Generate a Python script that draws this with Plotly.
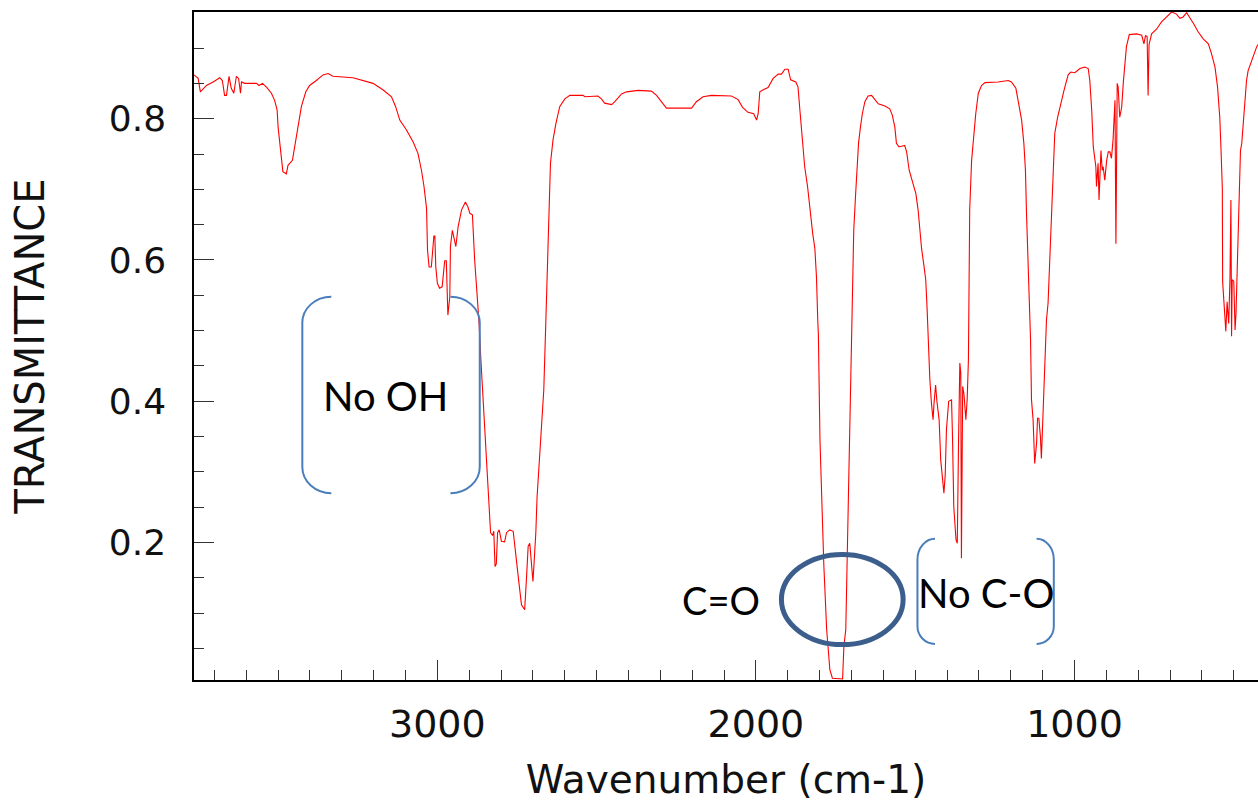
import plotly.graph_objects as go

# ---- spectrum values ----
wavenumber = [
    3764, 3751, 3744, 3725, 3704, 3683, 3675, 3668, 3662, 3654, 3647, 3639, 3631, 3624, 3618, 3615,
    3605, 3568, 3560, 3549, 3535, 3521, 3511, 3503, 3500, 3495, 3490, 3485, 3474, 3469, 3455, 3448,
    3437, 3427, 3413, 3401, 3380, 3359, 3343, 3328, 3265, 3233, 3202, 3171, 3144, 3131, 3118, 3097,
    3076, 3061, 3050, 3042, 3034, 3031, 3026, 3019, 3015, 3011, 3008, 3005, 3000, 2993, 2985, 2977,
    2972, 2968, 2967, 2961, 2959, 2953, 2949, 2942, 2935, 2924, 2912, 2904, 2898, 2890, 2883, 2874,
    2869, 2864, 2859, 2853, 2848, 2843, 2838, 2833, 2827, 2823, 2819, 2815, 2811, 2806, 2799, 2789,
    2783, 2773, 2762, 2752, 2744, 2736, 2726, 2720, 2715, 2710, 2705, 2700, 2696, 2691, 2687, 2681,
    2676, 2670, 2666, 2661, 2658, 2653, 2647, 2645, 2637, 2628, 2616, 2600, 2584, 2543, 2537, 2496,
    2485, 2475, 2453, 2443, 2422, 2406, 2370, 2328, 2312, 2297, 2281, 2202, 2187, 2166, 2140, 2077,
    2056, 2042, 2025, 2007, 1998, 1993, 1988, 1977, 1962, 1946, 1930, 1920, 1909, 1899, 1891, 1875,
    1868, 1862, 1854, 1847, 1838, 1831, 1822, 1815, 1810, 1806, 1804, 1799, 1793, 1787, 1778, 1773,
    1768, 1760, 1728, 1724, 1718, 1714, 1707, 1702, 1698, 1697, 1693, 1687, 1678, 1672, 1666, 1658,
    1648, 1637, 1630, 1616, 1595, 1580, 1572, 1564, 1559, 1551, 1533, 1527, 1519, 1507, 1498, 1491,
    1486, 1480, 1473, 1467, 1463, 1460, 1454, 1449, 1444, 1441, 1436, 1432, 1425, 1420, 1414, 1410,
    1406, 1402, 1395, 1386, 1383, 1379, 1372, 1368, 1364, 1360, 1357, 1355, 1351, 1347, 1341, 1337,
    1333, 1331, 1329, 1323, 1316, 1310, 1302, 1292, 1281, 1240, 1208, 1198, 1184, 1177, 1166, 1159,
    1154, 1151, 1143, 1140, 1138, 1135, 1130, 1125, 1119, 1116, 1112, 1107, 1104, 1101, 1096, 1091,
    1088, 1083, 1077, 1072, 1067, 1062, 1053, 1044, 1033, 1020, 1012, 999, 983, 968, 957, 952,
    946, 941, 933, 931, 926, 923, 917, 913, 910, 905, 899, 894, 889, 884, 879, 873,
    870, 866, 863, 858, 852, 847, 842, 837, 828, 805, 789, 782, 777, 772, 769, 766,
    758, 742, 727, 711, 695, 680, 669, 659, 648, 627, 612, 596, 580, 570, 559, 551,
    544, 540, 536, 535, 528, 525, 521, 516, 512, 509, 507, 505, 500, 496, 493, 488,
    483, 479, 475, 468, 460, 455, 444, 428, 424,
]
transmittance = [
    .862, .857, .838, .847, .852, .858, .854, .833, .833, .860, .843, .836, .860, .857, .836, .852,
    .850, .850, .847, .850, .844, .836, .826, .812, .788, .765, .741, .725, .722, .734, .741, .760,
    .788, .817, .838, .847, .854, .862, .864, .860, .858, .854, .850, .841, .831, .817, .798, .784,
    .767, .751, .727, .704, .673, .614, .590, .590, .616, .634, .634, .590, .567, .560, .562, .599,
    .599, .553, .522, .548, .619, .642, .632, .619, .647, .671, .682, .675, .666, .664, .600, .543,
    .510, .463, .421, .383, .341, .298, .251, .214, .210, .216, .166, .170, .214, .218, .202, .201,
    .214, .218, .216, .180, .143, .112, .105, .152, .195, .199, .171, .145, .175, .214, .265, .308,
    .345, .378, .416, .491, .539, .614, .704, .737, .770, .793, .817, .828, .833, .833, .831, .832,
    .828, .822, .820, .824, .835, .838, .840, .839, .833, .824, .815, .815, .824, .831, .833, .832,
    .827, .816, .809, .807, .798, .807, .838, .841, .844, .857, .863, .863, .870, .870, .855, .852,
    .845, .812, .770, .732, .704, .671, .638, .616, .576, .515, .494, .345, .247, .169, .077, .053,
    .020, .008, .007, .053, .077, .168, .345, .444, .515, .560, .642, .694, .765, .788, .807, .824,
    .832, .833, .829, .821, .818, .814, .805, .788, .765, .760, .762, .753, .727, .708, .694, .671,
    .642, .616, .593, .572, .534, .487, .430, .397, .374, .397, .423, .400, .374, .317, .289, .270,
    .294, .360, .400, .402, .350, .251, .204, .199, .343, .454, .440, .178, .421, .410, .374, .402,
    .459, .543, .671, .741, .779, .807, .836, .847, .851, .852, .854, .852, .843, .826, .798, .765,
    .727, .671, .576, .515, .487, .402, .374, .312, .341, .376, .376, .350, .319, .360, .416, .482,
    .515, .539, .605, .671, .727, .779, .802, .821, .840, .862, .866, .865, .871, .873, .871, .854,
    .812, .760, .732, .704, .737, .685, .755, .727, .732, .713, .741, .753, .753, .744, .770, .826,
    .623, .850, .845, .802, .816, .850, .873, .902, .919, .920, .918, .906, .918, .916, .833, .905,
    .920, .927, .937, .944, .951, .948, .942, .944, .950, .935, .923, .913, .906, .892, .873, .845,
    .802, .755, .701, .569, .520, .499, .541, .510, .574, .685, .492, .572, .570, .501, .525, .616,
    .711, .755, .765, .807, .854, .868, .883, .902, .905,
]

x_range = [3764, 424]
y_range = [0.0055, 0.951]
x_title = "Wavenumber (cm-1)"
y_title = "TRANSMITTANCE"

# annotation labels (text, wavenumber, transmittance, size)
labels = [("No OH", 3163, 0.408, 40), ("C=O", 2110, 0.119, 38), ("No C-O", 1279, 0.129, 40)]

# bracket pairs: (left end x, left vertical x, right end x, right vertical x, y top, y corner top, y corner bottom, y bottom)
brackets = [
    (3333, 3424, 2959, 2867, 0.548, 0.511, 0.307, 0.270),
    (1438, 1493, 1119, 1065, 0.2055, 0.176, 0.0815, 0.0566),
]
ellipse = (1920, 1538, 0.0556, 0.1833)

FONT = "DejaVu Sans"
LABEL_FONT = "Lato"

fig = go.Figure()
fig.add_trace(go.Scatter(x=wavenumber, y=transmittance, mode="lines",
                         line=dict(color="#ff0000", width=1.1), hoverinfo="skip"))

K = 0.5523


def half(xe, xv, yt, yct, ycb, yb):
    return (f"M {xe},{yt} C {xe + K*(xv-xe)},{yt} {xv},{yct + K*(yt-yct)} {xv},{yct} "
            f"L {xv},{ycb} C {xv},{ycb + K*(yb-ycb)} {xe + K*(xv-xe)},{yb} {xe},{yb}")


shapes = []
for (lxe, lxv, rxe, rxv, yt, yct, ycb, yb) in brackets:
    for xe, xv in ((lxe, lxv), (rxe, rxv)):
        shapes.append(dict(type="path", xref="x", yref="y", path=half(xe, xv, yt, yct, ycb, yb),
                           line=dict(color="#4a7ebb", width=2)))
ex0, ex1, ey0, ey1 = ellipse
shapes.append(dict(type="circle", xref="x", yref="y", x0=ex0, x1=ex1, y0=ey0, y1=ey1,
                   line=dict(color="#3b5e8c", width=5)))

annotations = [dict(x=x, y=y, xref="x", yref="y", text=t, showarrow=False,
                    font=dict(family=LABEL_FONT, size=s, color="black"))
               for t, x, y, s in labels]

fig.update_layout(
    width=1258, height=803,
    margin=dict(l=194, r=0, t=12, b=123),
    paper_bgcolor="white", plot_bgcolor="white",
    showlegend=False,
    shapes=shapes, annotations=annotations,
    font=dict(family=FONT, color="black"),
)
fig.update_xaxes(
    range=x_range, showgrid=False, zeroline=False,
    showline=True, linecolor="black", linewidth=1.5, mirror=True,
    ticks="inside", ticklen=20, tickwidth=1, tickcolor="#333",
    tick0=0, dtick=1000,
    minor=dict(ticks="inside", ticklen=10, dtick=100, tick0=0, tickcolor="#333", tickwidth=1),
    tickfont=dict(family=FONT, size=38, color="#111"),
    ticklabelstandoff=10,
    title=dict(text=x_title, font=dict(family=FONT, size=39, color="#111"), standoff=20),
)
fig.update_yaxes(
    range=y_range, showgrid=False, zeroline=False,
    showline=True, linecolor="black", linewidth=1.5,
    ticks="inside", ticklen=20, tickwidth=1, tickcolor="#333",
    tick0=0, dtick=0.2,
    minor=dict(ticks="inside", ticklen=10, dtick=0.05, tick0=0, tickcolor="#333", tickwidth=1),
    tickfont=dict(family=FONT, size=36, color="#111"),
    ticklabelstandoff=19,
    title=dict(text=y_title, font=dict(family=FONT, size=40, color="#111"), standoff=52),
)

# remove the default page margin so the 1258x803 figure fills the window exactly
fig.write_html("out.html", config={"displayModeBar": False},
               post_script="document.body.style.margin='0';document.body.style.overflow='hidden';")
